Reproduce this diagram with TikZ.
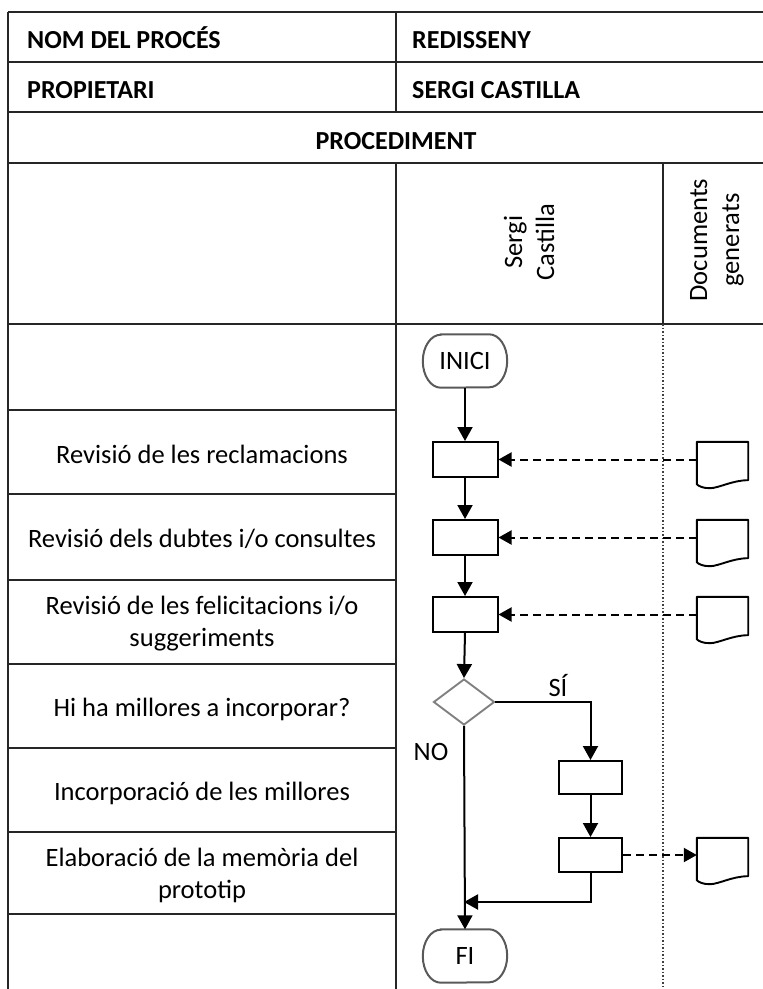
\documentclass[tikz,border=0pt]{standalone}
\usepackage{fontspec}
\setmainfont{Carlito}
\usetikzlibrary{arrows.meta,shapes.geometric}
\begin{document}
\begin{tikzpicture}[x=1pt,y=-1pt,
  grid/.style={line width=2pt, draw=black!85},
  txt/.style={font=\fontsize{26.5}{32}\selectfont, inner sep=0pt, align=center},
  hdr/.style={font=\fontsize{26}{32}\selectfont\bfseries, inner sep=0pt},
  proc/.style={draw, line width=2pt, minimum width=65pt, minimum height=35pt, inner sep=0pt},
  term/.style={minimum width=84pt, minimum height=53pt, inner sep=0pt, font=\fontsize{26.5}{32}\selectfont},
  termline/.style={draw=black!65, line width=2pt},
  decision/.style={diamond, draw=black!50, line width=1.9pt, minimum width=61pt, minimum height=46pt, inner sep=0pt},
  docbox/.style={minimum width=51pt, minimum height=46pt, inner sep=0pt},
  flow/.style={line width=2pt, -{Triangle[width=15pt,length=14pt]}},
  docflow/.style={line width=2pt, dash pattern=on 8pt off 5pt, -{Triangle[width=14pt,length=13pt]}},
  docline/.style={line width=1.9pt, line join=round},
]
\useasboundingbox (0,0) rectangle (763,989);

% table grid: full-width header rows, step rows only in the left column
\foreach \yy in {12,62,112,163,324}
  \draw[grid] (8,\yy) -- (775,\yy);
\foreach \yy in {410,494,580,664,748,832,914}
  \draw[grid] (8,\yy) -- (396,\yy);
\draw[grid] (8,12) -- (8,989);
\draw[grid] (396,12) -- (396,112);
\draw[grid] (396,163) -- (396,989);
\draw[grid] (663,163) -- (663,324);
\draw[line width=1.5pt, draw=black!75, dotted] (663,324) -- (663,989);

% header texts
\node[hdr, anchor=base west] (hname) at (27,48) {NOM DEL PROCÉS};
\node[hdr, anchor=base west] (hnameval) at (412,48) {REDISSENY};
\node[hdr, anchor=base west] (howner) at (27,98) {PROPIETARI};
\node[hdr, anchor=base west] (hownerval) at (412,98) {SERGI CASTILLA};
\node[hdr, anchor=base] (hproc) at (396,149) {PROCEDIMENT};
\node[txt, rotate=90] (lane1) at (529,242) {Sergi\\Castilla};
\node[txt, rotate=90] (lane2) at (717,240) {Documents\\generats};

% step descriptions
\node[txt] (s1) at (202,454) {Revisió de les reclamacions};
\node[txt] (s2) at (202,539) {Revisió dels dubtes i/o consultes};
\node[txt] (s3) at (202,624) {Revisió de les felicitacions i/o\\suggeriments};
\node[txt] (s4) at (202,709) {Hi ha millores a incorporar?};
\node[txt] (s5) at (202,793) {Incorporació de les millores};
\node[txt] (s6) at (202,875) {Elaboració de la memòria del\\prototip};

% flow nodes
\node[term] (ini) at (465,361) {INICI};
\node[proc] (b1) at (465,459.5) {};
\node[proc] (b2) at (465,537.5) {};
\node[proc] (b3) at (465,614.5) {};
\node[decision] (dec) at (464,702) {};
\node[proc, minimum width=63pt, minimum height=33pt] (b4) at (590.5,777.5) {};
\node[proc, minimum width=63pt, minimum height=34pt] (b5) at (590.5,855) {};
\node[term] (fi) at (465,956) {FI};
\coordinate (join) at (464,902);

% terminal outlines: straight top and bottom, elliptical ends
\foreach \t in {ini,fi}
  \draw[termline] ([xshift=18pt]\t.north west) -- ([xshift=-18pt]\t.north east)
    arc[start angle=90, end angle=-90, x radius=18pt, y radius=26.5pt]
    -- ([xshift=18pt]\t.south west)
    arc[start angle=270, end angle=90, x radius=18pt, y radius=26.5pt] -- cycle;

% documents
\node[docbox] (d1) at (722.5,465) {};
\node[docbox] (d2) at (722.5,543) {};
\node[docbox] (d3) at (722.5,620) {};
\node[docbox] (d4) at (722.5,861) {};
\foreach \d in {d1,d2,d3,d4}
  \draw[docline] (\d.north west) -- (\d.north east) -- ([yshift=8pt]\d.south east)
    .. controls ([xshift=-16pt,yshift=8pt]\d.south east) and ([xshift=22pt]\d.south west) .. ([xshift=13pt]\d.south west)
    .. controls ([xshift=6pt]\d.south west) and ([xshift=2pt,yshift=2pt]\d.south west) .. ([yshift=4pt]\d.south west) -- cycle;

% connectors
\draw[flow] (ini) -- (b1);
\draw[flow] (b1) -- (b2);
\draw[flow] (b2) -- (b3);
\draw[flow] (b3.south) -- (dec.north);
\draw[flow] (dec.east) -| (b4.north);
\draw[flow] (b4) -- (b5);
\draw[flow] (dec.south) -- (fi.north);
\draw[flow] (b5.south) |- (join);
\draw[docflow] (b1.east -| d1.west) -- (b1.east);
\draw[docflow] (b2.east -| d2.west) -- (b2.east);
\draw[docflow] (b3.east -| d3.west) -- (b3.east);
\draw[docflow] (b5.east) -- (b5.east -| d4.west);

% branch labels
\node[txt] (yes) at (558,686) {SÍ};
\node[txt] (no) at (431,752) {NO};
\end{tikzpicture}
\end{document}
